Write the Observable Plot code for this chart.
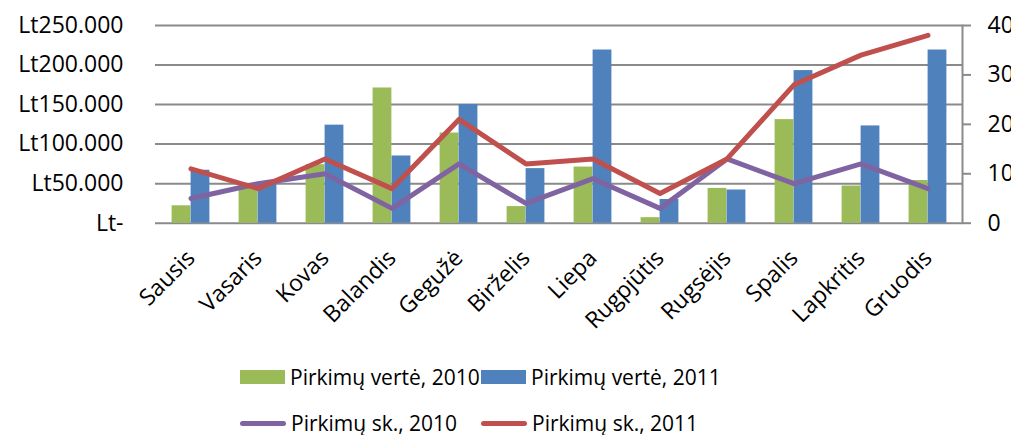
<!DOCTYPE html>
<html>
<head>
<meta charset="utf-8">
<script src="https://cdn.jsdelivr.net/npm/d3@7"></script>
<script src="https://cdn.jsdelivr.net/npm/@observablehq/plot@0.6"></script>
<style>
  html, body { margin: 0; padding: 0; background: #fff; }
  #wrap { position: relative; width: 1011px; height: 435px; font-family: "Open Sans", sans-serif; }
  #legend { position: absolute; left: 0; top: 355px; width: 1011px; height: 80px; font-size: 21px; line-height: 26px; color: #000; }
  .item { position: absolute; display: flex; align-items: center; white-space: nowrap; height: 26px; }
  .sw { width: 45px; height: 14px; margin-right: 5px; }
  .ln { width: 46px; height: 5px; border-radius: 3px; margin-right: 5px; }
</style>
</head>
<body>
<div id="wrap">
  <div id="chart"></div>
  <div id="legend"></div>
</div>
<script>
const months = ["Sausis", "Vasaris", "Kovas", "Balandis", "Gegužė", "Birželis", "Liepa", "Rugpjūtis", "Rugsėjis", "Spalis", "Lapkritis", "Gruodis"];
const value2010 = [22000, 48000, 74000, 171000, 114000, 21000, 71000, 7000, 44000, 131000, 47000, 54000];
const value2011 = [67000, 52000, 124000, 85000, 150000, 69000, 219000, 30000, 42000, 193000, 123000, 219000];
const count2010 = [5, 8, 10, 3, 12, 4, 9, 3, 13, 8, 12, 7];
const count2011 = [11, 7, 13, 7, 21, 12, 13, 6, 13, 28, 34, 38];
const leftTicks = [0, 50000, 100000, 150000, 200000, 250000];
const rightTicks = [0, 10, 20, 30, 40];
const seriesNames = ["Pirkimų vertė, 2010", "Pirkimų vertė, 2011", "Pirkimų sk., 2010", "Pirkimų sk., 2011"];
const colors = ["#9BBB59", "#4F81BD", "#8064A2", "#C0504D"];

const ratio = 250000 / 40;
const rows = months.map((m, i) => ({month: m, v2010: value2010[i], v2011: value2011[i], c2010: count2010[i], c2011: count2011[i]}));
const fmtLt = d => d === 0 ? "Lt-" : "Lt" + d3.format(",")(d).replace(/,/g, ".");
const grid = "#8a8a8a";

const chart = Plot.plot({
  width: 1011,
  height: 355,
  marginLeft: 155,
  marginRight: 49,
  marginTop: 25,
  marginBottom: 132.3,
  style: {fontFamily: "Open Sans, sans-serif", fontSize: "23px", color: "#000", background: "#fff", overflow: "visible"},
  x: {domain: months, padding: 0, label: null, axis: null},
  y: {domain: [0, 250000], label: null, axis: null},
  marks: [
    Plot.ruleY(leftTicks, {stroke: grid, strokeWidth: 2}),
    Plot.frame({anchor: "right", stroke: grid, strokeWidth: 2}),
    Plot.barY(rows, {x: "month", y: "v2010", fill: colors[0], insetLeft: 14.6, insetRight: 33.6}),
    Plot.barY(rows, {x: "month", y: "v2011", fill: colors[1], insetLeft: 33.6, insetRight: 14.6}),
    Plot.line(rows, {x: "month", y: d => d.c2010 * ratio, stroke: colors[2], strokeWidth: 5}),
    Plot.line(rows, {x: "month", y: d => d.c2011 * ratio, stroke: colors[3], strokeWidth: 5}),
    Plot.axisY({anchor: "left", ticks: leftTicks, tickSize: 0, tickPadding: 32, tickFormat: fmtLt, label: null}),
    Plot.axisY({anchor: "right", ticks: rightTicks.map(t => t * ratio), tickSize: 8, tickPadding: 17, tickFormat: d => d / ratio, label: null, stroke: grid, strokeWidth: 2}),
    Plot.axisX({anchor: "bottom", tickSize: 0, tickPadding: 31, tickRotate: -45, label: null})
  ]
});
document.getElementById("chart").appendChild(chart);

const legend = document.getElementById("legend");
const pos = [[240, 22], [481, 22], [240, 68], [481, 68]];
seriesNames.forEach((name, i) => {
  const it = document.createElement("div");
  it.className = "item";
  it.style.left = pos[i][0] + "px";
  it.style.top = (pos[i][1] - 13) + "px";
  const sw = document.createElement("span");
  sw.className = i < 2 ? "sw" : "ln";
  sw.style.background = colors[i];
  const tx = document.createElement("span");
  tx.textContent = name;
  it.appendChild(sw);
  it.appendChild(tx);
  legend.appendChild(it);
});
</script>
</body>
</html>
